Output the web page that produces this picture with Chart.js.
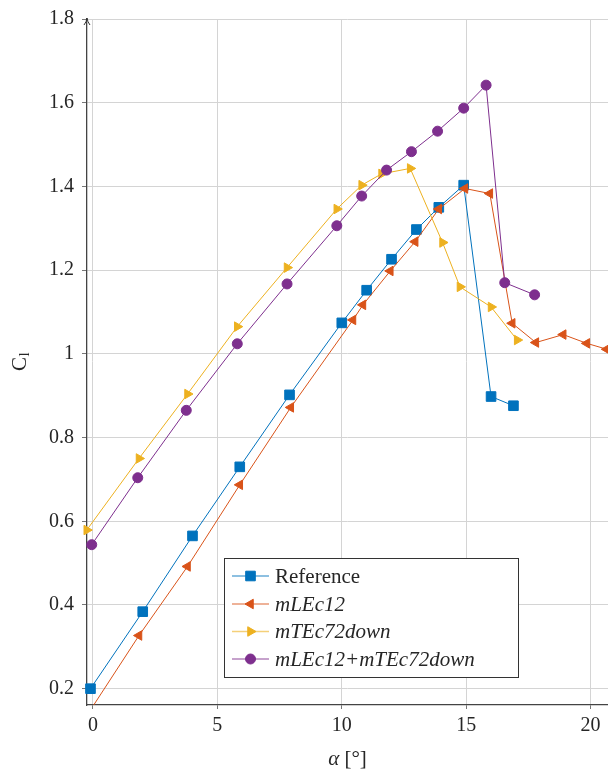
<!DOCTYPE html>
<html lang="en">
<head>
    <meta charset="UTF-8">
    <title>Cl vs alpha</title>
    <style>
        body {
            margin: 0;
            padding: 0;
            background: #fff;
        }
    </style>
</head>
<body>
    <canvas id="clChart" width="608" height="770"></canvas>

    <script src="https://cdn.jsdelivr.net/npm/chart.js/dist/chart.umd.min.js"></script>
    <script>
        // data
        const refX = [-0.1, 2, 4, 5.9, 7.9, 10, 11, 12, 13, 13.9, 14.9, 16, 16.9]
        const refY = [0.2, 0.384, 0.565, 0.73, 0.902, 1.074, 1.152, 1.226, 1.297, 1.35, 1.403, 0.898, 0.876]

        const lecX = [-0.2, 1.85, 3.8, 5.9, 7.95, 10.45, 10.85, 11.95, 12.95, 13.9, 14.95, 15.95, 16.85, 17.8, 18.9, 19.85, 20.65]
        const lecY = [0.14, 0.327, 0.492, 0.687, 0.872, 1.081, 1.117, 1.198, 1.268, 1.346, 1.395, 1.383, 1.073, 1.027, 1.046, 1.025, 1.011]

        const tecX = [-0.25, 1.85, 3.8, 5.8, 7.8, 9.8, 10.8, 11.6, 12.75, 14.05, 14.75, 16, 17.05]
        const tecY = [0.579, 0.75, 0.904, 1.065, 1.206, 1.346, 1.403, 1.43, 1.443, 1.266, 1.16, 1.112, 1.033]

        const bothX = [-0.05, 1.8, 3.75, 5.8, 7.8, 9.8, 10.8, 11.8, 12.8, 13.85, 14.9, 15.8, 16.55, 17.75]
        const bothY = [0.544, 0.704, 0.865, 1.024, 1.167, 1.306, 1.377, 1.439, 1.483, 1.532, 1.587, 1.642, 1.17, 1.141]

        const seriesNames = ['Reference', 'mLEc12', 'mTEc72down', 'mLEc12+mTEc72down']
        const xTicks = [0, 5, 10, 15, 20]
        const yTicks = [0.2, 0.4, 0.6, 0.8, 1, 1.2, 1.4, 1.6, 1.8]

        const blue = '#0072BD'
        const orange = '#D95319'
        const yellow = '#EDB120'
        const purple = '#7E2F8E'

        const serif = "'Liberation Serif', 'DejaVu Serif', serif"
        const textColor = '#262626'

        function pts(xs, ys) {
            return xs.map((x, i) => ({ x: x, y: ys[i] }))
        }

        function series(label, xs, ys, color, style, radius, rot, order) {
            return {
                label: label,
                data: pts(xs, ys),
                borderColor: color,
                backgroundColor: color,
                borderWidth: 1,
                pointStyle: style,
                pointRadius: radius,
                pointRotation: rot,
                pointBorderWidth: 1,
                pointBackgroundColor: color,
                pointBorderColor: color,
                showLine: true,
                order: order,
                clip: { left: 6, top: 6, right: 6, bottom: 0 }
            }
        }

        const datasets = [
            series(seriesNames[0], refX, refY, blue, 'rect', 6.8, 0, 4),
            series(seriesNames[1], lecX, lecY, orange, 'triangle', 5.5, -90, 3),
            series(seriesNames[2], tecX, tecY, yellow, 'triangle', 5.5, 90, 2),
            series(seriesNames[3], bothX, bothY, purple, 'circle', 5, 0, 1)
        ]

        function drawMarker(ctx, ds, x, y) {
            ctx.save()
            ctx.fillStyle = ds.pointBackgroundColor
            ctx.strokeStyle = ds.pointBorderColor
            ctx.lineWidth = 1
            ctx.beginPath()
            const r = ds.pointRadius
            if (ds.pointStyle === 'rect') {
                const s = r * Math.SQRT1_2
                ctx.rect(x - s, y - s, 2 * s, 2 * s)
            } else if (ds.pointStyle === 'circle') {
                ctx.arc(x, y, r, 0, Math.PI * 2)
            } else {
                let a = ds.pointRotation * Math.PI / 180
                for (let k = 0; k < 3; k++) {
                    const px = x + Math.sin(a) * r
                    const py = y - Math.cos(a) * r
                    if (k === 0) ctx.moveTo(px, py); else ctx.lineTo(px, py)
                    a += 2 * Math.PI / 3
                }
                ctx.closePath()
            }
            ctx.fill()
            ctx.stroke()
            ctx.restore()
        }

        // arrow on the y axis, axis titles and the boxed legend
        const decor = {
            id: 'decor',
            afterDraw(chart) {
                const ctx = chart.ctx
                const area = chart.chartArea

                // y axis arrow tip
                ctx.save()
                ctx.strokeStyle = '#333'
                ctx.lineWidth = 1
                ctx.beginPath()
                ctx.moveTo(area.left - 3, area.top + 6)
                ctx.quadraticCurveTo(area.left - 0.5, area.top + 3, area.left, area.top - 1)
                ctx.quadraticCurveTo(area.left + 0.5, area.top + 3, area.left + 3, area.top + 6)
                ctx.stroke()
                ctx.restore()

                // x title
                ctx.save()
                ctx.fillStyle = textColor
                ctx.textBaseline = 'alphabetic'
                ctx.font = 'italic 21px ' + serif
                const alpha = '\u03B1'
                const rest = ' [\u00B0]'
                const wa = ctx.measureText(alpha).width
                ctx.font = '21px ' + serif
                const wr = ctx.measureText(rest).width
                const cx = (area.left + area.right) / 2
                let sx = cx - (wa + wr) / 2
                ctx.font = 'italic 21px ' + serif
                ctx.fillText(alpha, sx, 765)
                ctx.font = '21px ' + serif
                ctx.fillText(rest, sx + wa, 765)
                ctx.restore()

                // y title C_l
                ctx.save()
                ctx.translate(26, (area.top + area.bottom) / 2)
                ctx.rotate(-Math.PI / 2)
                ctx.fillStyle = textColor
                ctx.textBaseline = 'alphabetic'
                ctx.font = '21px ' + serif
                const wc = ctx.measureText('C').width
                ctx.font = '15px ' + serif
                const wl = ctx.measureText('l').width
                ctx.font = '21px ' + serif
                ctx.fillText('C', -(wc + wl) / 2, 0)
                ctx.font = '15px ' + serif
                ctx.fillText('l', -(wc + wl) / 2 + wc + 0.5, 3)
                ctx.restore()

                // legend
                const box = { left: 224.5, top: 558.5, right: 518.5, bottom: 677.5 }
                ctx.save()
                ctx.fillStyle = '#fff'
                ctx.fillRect(box.left, box.top, box.right - box.left, box.bottom - box.top)
                ctx.strokeStyle = '#333'
                ctx.lineWidth = 1
                ctx.strokeRect(box.left, box.top, box.right - box.left, box.bottom - box.top)
                const rowY = [576, 604, 631.5, 659]
                chart.data.datasets.forEach((ds, i) => {
                    const y = rowY[i]
                    ctx.save()
                    ctx.globalAlpha = 0.6
                    ctx.strokeStyle = ds.borderColor
                    ctx.lineWidth = 1.6
                    ctx.beginPath()
                    ctx.moveTo(232, y)
                    ctx.lineTo(269, y)
                    ctx.stroke()
                    ctx.restore()
                    drawMarker(ctx, ds, 250.5, y)
                    ctx.fillStyle = textColor
                    ctx.textBaseline = 'middle'
                    ctx.font = (i === 0 ? '' : 'italic ') + '21px ' + serif
                    ctx.fillText(ds.label, 275, y + 1)
                })
                ctx.restore()
            }
        }

        const config = {
            type: 'scatter',
            data: { datasets: datasets },
            options: {
                responsive: false,
                animation: false,
                layout: {
                    autoPadding: false,
                    padding: { top: 19, right: 0, bottom: 0, left: 0 }
                },
                plugins: {
                    legend: { display: false },
                    tooltip: { enabled: false }
                },
                scales: {
                    x: {
                        type: 'linear',
                        min: -0.24,
                        max: 20.7,
                        afterBuildTicks: (scale) => {
                            scale.ticks = xTicks.map(v => ({ value: v }))
                        },
                        afterFit: (scale) => {
                            scale.height = 65
                            scale.paddingLeft = 0
                            scale.paddingRight = 0
                        },
                        grid: {
                            color: '#d4d4d4',
                            tickColor: '#777',
                            tickLength: 4
                        },
                        border: { color: '#444', width: 1.3 },
                        ticks: {
                            color: textColor,
                            font: { family: serif, size: 20 },
                            padding: 5,
                            maxRotation: 0,
                            callback: (v) => String(v)
                        }
                    },
                    y: {
                        type: 'linear',
                        min: 0.161,
                        max: 1.8,
                        afterBuildTicks: (scale) => {
                            scale.ticks = yTicks.map(v => ({ value: v }))
                        },
                        afterFit: (scale) => {
                            scale.width = 87
                            scale.paddingTop = 0
                            scale.paddingBottom = 0
                        },
                        grid: {
                            color: '#d4d4d4',
                            tickColor: '#777',
                            tickLength: 5
                        },
                        border: { color: '#444', width: 1.3 },
                        ticks: {
                            color: textColor,
                            font: { family: serif, size: 20 },
                            padding: 8,
                            callback: (v) => String(Math.round(v * 10) / 10)
                        }
                    }
                }
            },
            plugins: [decor]
        }

        const clChart = new Chart(document.getElementById('clChart'), config)
    </script>
</body>
</html>
